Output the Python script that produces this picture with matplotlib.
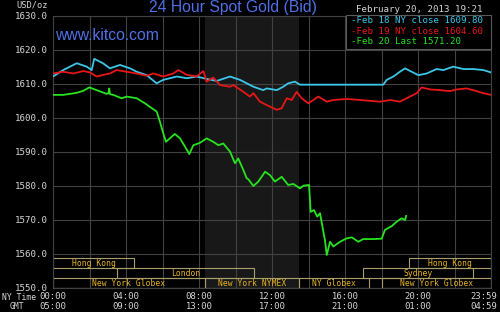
import matplotlib
matplotlib.use("Agg")
import matplotlib.pyplot as plt
from matplotlib.patches import Rectangle
from matplotlib.transforms import offset_copy

# hours since 00:00 NY time, price in USD/oz
feb18_t = [0.0, 0.56, 1.30, 1.85, 2.12, 2.26, 2.74, 3.12, 3.67, 4.22, 4.59, 5.13,
           5.68, 6.03, 6.78, 7.33, 7.87, 8.42, 8.97, 9.70, 10.25, 10.98, 11.52,
           11.71, 12.26, 12.62, 12.89, 13.26, 13.53, 18.10, 18.28, 18.65, 19.01,
           19.29, 19.65, 20.02, 20.48, 21.02, 21.39, 21.93, 22.48, 23.03, 23.58, 24.0]
feb18_v = [1612.2, 1614.1, 1616.1, 1615.1, 1614.1, 1617.4, 1616.1, 1614.6, 1615.6,
           1614.6, 1613.6, 1612.6, 1610.2, 1611.2, 1612.2, 1611.7, 1612.2, 1611.5,
           1610.9, 1612.2, 1611.2, 1609.2, 1608.2, 1608.7, 1608.2, 1609.2, 1610.2,
           1610.7, 1609.8, 1609.8, 1611.2, 1612.2, 1613.6, 1614.6, 1613.6, 1612.6,
           1613.1, 1614.4, 1614.1, 1615.1, 1614.4, 1614.4, 1614.1, 1613.4]

feb19_t = [0.0, 0.56, 1.11, 1.66, 2.03, 2.39, 2.76, 3.12, 3.49, 4.04, 4.59, 5.13,
           5.50, 6.04, 6.59, 6.87, 7.33, 7.87, 8.24, 8.42, 8.78, 9.15, 9.70, 9.88,
           10.43, 10.79, 10.98, 11.34, 11.71, 12.26, 12.53, 12.81, 13.08, 13.35,
           13.63, 13.99, 14.54, 15.00, 15.36, 16.09, 16.82, 17.92, 18.47, 19.01,
           19.56, 19.93, 20.20, 20.66, 21.21, 21.75, 22.12, 22.67, 23.22, 23.58, 24.0]
feb19_v = [1613.1, 1613.6, 1613.1, 1613.8, 1613.4, 1612.2, 1612.7, 1613.1, 1614.1,
           1613.6, 1613.1, 1612.4, 1613.1, 1612.2, 1613.1, 1614.1, 1612.7, 1612.2,
           1613.8, 1610.7, 1611.9, 1609.7, 1609.2, 1609.7, 1607.7, 1606.3, 1607.3,
           1604.8, 1603.8, 1602.4, 1602.9, 1605.8, 1605.3, 1607.7, 1605.8, 1604.3,
           1606.3, 1604.8, 1605.3, 1605.6, 1605.3, 1604.8, 1605.3, 1604.8, 1606.3,
           1607.3, 1609.0, 1608.4, 1608.2, 1607.9, 1608.4, 1608.7, 1607.9, 1607.3, 1606.8]

feb20_t = [0.0, 0.56, 1.30, 1.66, 1.99, 2.39, 2.94, 3.04, 3.08, 3.12, 3.30, 3.76,
           4.04, 4.59, 5.04, 5.41, 5.68, 5.86, 6.04, 6.19, 6.50, 6.68, 6.96, 7.23,
           7.47, 7.69, 8.05, 8.42, 8.78, 9.06, 9.33, 9.70, 9.97, 10.15, 10.43,
           10.61, 10.70, 10.98, 11.25, 11.62, 11.89, 12.16, 12.53, 12.89, 13.17,
           13.53, 13.72, 14.03, 14.12, 14.30, 14.48, 14.63, 14.78, 14.90, 15.00,
           15.18, 15.36, 15.73, 16.09, 16.37, 16.73, 17.00, 17.55, 18.01, 18.19,
           18.56, 18.83, 19.10, 19.29, 19.35]
feb20_v = [1606.8, 1606.8, 1607.4, 1608.0, 1609.0, 1608.2, 1607.1, 1607.3, 1608.7,
           1607.0, 1606.8, 1605.8, 1606.3, 1605.8, 1604.3, 1602.9, 1601.9, 1598.9,
           1595.5, 1593.0, 1594.5, 1595.3, 1594.0, 1591.6, 1589.4, 1592.0, 1592.7,
           1594.0, 1593.0, 1592.0, 1592.5, 1590.1, 1586.7, 1588.1, 1584.7, 1582.3,
           1582.0, 1580.0, 1581.3, 1584.2, 1583.2, 1581.3, 1582.7, 1580.3, 1580.6,
           1579.3, 1580.1, 1580.3, 1572.4, 1572.9, 1571.0, 1572.0, 1567.6, 1564.1,
           1559.7, 1563.6, 1562.2, 1563.6, 1564.6, 1564.9, 1563.6, 1564.4, 1564.4,
           1564.5, 1567.1, 1568.2, 1569.5, 1570.5, 1570.0, 1571.2]

series_labels = ["Feb 18 NY close", "Feb 19 NY close", "Feb 20 Last"]
series_last = [1609.80, 1604.60, 1571.20]
series_colors = ["#3cc6e8", "#e81616", "#26e41e"]

# trading sessions: name, start hour, end hour, row (0 = bottom)
session_names = ["Hong Kong", "Hong Kong", "London", "Sydney", "New York Globex",
                 "New York NYMEX", "NY Globex", "New York Globex"]
session_start = [0.0, 19.5, 3.5, 17.0, 0.0, 8.33, 13.5, 18.0]
session_end = [4.45, 24.0, 11.0, 23.0, 8.33, 13.5, 17.33, 24.0]
session_row = [2, 2, 1, 1, 0, 0, 0, 0]

nymex_hours = (8.33, 13.5)

tick_hours = [0, 4, 8, 12, 16, 20, 24]
ny_labels = ["00:00", "04:00", "08:00", "12:00", "16:00", "20:00", "23:59"]
gmt_labels = ["05:00", "09:00", "13:00", "17:00", "21:00", "01:00", "04:59"]

mono = "DejaVu Sans Mono"
grey = "#d6d6d6"
gold = "#e8b424"
box_edge = "#a89f6c"
grid_c = "#424242"
blue = "#5070e6"

fig = plt.figure(figsize=(5.0, 3.12), dpi=100, facecolor="black")
ax = fig.add_axes([53 / 500, 24 / 312, 438 / 500, 272 / 312], facecolor="black")
ax.set_xlim(0, 24)
ax.set_ylim(1550, 1630)

ax.axvspan(*nymex_hours, color="#181818", zorder=0.2, lw=0)
ax.set_xticks(range(0, 25, 2))
ax.set_xticklabels([])
ax.set_yticks(range(1550, 1631, 10))
ax.set_yticklabels([f"{v:.1f}" for v in range(1550, 1631, 10)],
                   family=mono, fontsize=6.6, color=grey)
ax.tick_params(length=0, pad=4)
ax.grid(True, color=grid_c, lw=0.8, zorder=0.5)
ax.set_axisbelow(True)
for s in ax.spines.values():
    s.set_color(grid_c)
    s.set_linewidth(0.8)

# session boxes
row_h = 2.93
for name, a, b, r in zip(session_names, session_start, session_end, session_row):
    y0 = 1550 + r * row_h
    ax.add_patch(Rectangle((a, y0), b - a, row_h, fill=False, ec=box_edge,
                           lw=0.8, zorder=2))
    ax.text((a + b) / 2, y0 + row_h / 2, name, ha="center", va="center",
            family=mono, fontsize=5.8, color=gold, zorder=3)

for t, v, c in zip([feb18_t, feb19_t, feb20_t], [feb18_v, feb19_v, feb20_v],
                   series_colors):
    ax.plot(t, v, color=c, lw=1.3, zorder=4)

# time axis labels
xt = ax.get_xaxis_transform()
for h, ny, gmt in zip(tick_hours, ny_labels, gmt_labels):
    if h == 24:
        tr = offset_copy(xt, fig=fig, x=6, y=0, units="dots")
        ha = "right"
    else:
        tr = xt
        ha = "center"
    ax.text(h, -0.03, ny, transform=tr, ha=ha, va="center",
            family=mono, fontsize=6.4, color=grey)
    ax.text(h, -0.068, gmt, transform=tr, ha=ha, va="center",
            family=mono, fontsize=6.4, color=grey)

fig.text(2.5 / 500, 1 - 297.5 / 312, "NY Time", ha="left", va="center",
         family=mono, fontsize=5.8, color=grey)
fig.text(16.5 / 500, 1 - 306.5 / 312, "GMT", ha="center", va="center",
         family=mono, fontsize=5.8, color=grey)
fig.text(16 / 500, 1 - 5 / 312, "USD/oz", ha="left", va="center",
         family=mono, fontsize=6.2, color=grey)

fig.text(233 / 500, 1 - 7.5 / 312, "24 Hour Spot Gold (Bid)", ha="center",
         va="center", family="Liberation Sans", fontsize=11.3, color=blue)
ax.text(55 / 500, 1 - 36 / 312, "www.kitco.com", transform=fig.transFigure,
        ha="left", va="center", family="Liberation Sans", fontsize=11.3,
        color=blue, zorder=5)
fig.text(482 / 500, 1 - 10 / 312, "February 20, 2013 19:21", ha="right",
         va="center", family=mono, fontsize=6.6, color=grey)

# legend box
fig.add_artist(Rectangle((345.7 / 500, 1 - 49.3 / 312), 145 / 500, 34.3 / 312,
                         transform=fig.transFigure, fc="black", ec="#5a5a5a",
                         lw=0.8, zorder=5))
for i, (lab, last, c) in enumerate(zip(series_labels, series_last, series_colors)):
    fig.text(351 / 500, 1 - (20.7 + 10.5 * i) / 312, f"-{lab} {last:.2f}",
             ha="left", va="center", family=mono, fontsize=6.6, color=c, zorder=6)

fig.savefig("out.png", dpi=100, facecolor="black")
